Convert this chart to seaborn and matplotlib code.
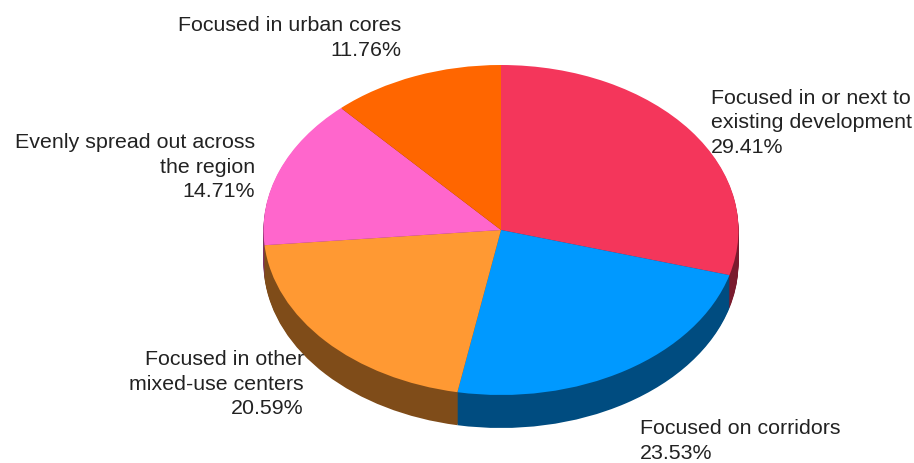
import matplotlib
matplotlib.use('Agg')
import matplotlib.pyplot as plt
import seaborn as sns

sns.set_theme(style='white')
plt.rcParams['font.family'] = ['Liberation Sans', 'DejaVu Sans']

labels = ['Focused in or next to\nexisting development\n29.41%',
          'Focused on corridors\n23.53%',
          'Focused in other\nmixed-use centers\n20.59%',
          'Evenly spread out across\nthe region\n14.71%',
          'Focused in urban cores\n11.76%']
values = [29.41, 23.53, 20.59, 14.71, 11.76]
colors = ['#F4365B', '#0099FF', '#FF9933', '#FF66CC', '#FF6600']
side_colors = ['#7A1B2E', '#004C80', '#7F4C19', '#7F3366', '#7F3300']

W, H = 914, 464
cx, cy, rx, ry, depth = 501, 231, 237.5, 165, 33

fig = plt.figure(figsize=(W / 100, H / 100), dpi=100)
ax = fig.add_axes([0, 0, 1, 1])

# stack of darker pies makes the 3d side
for d in range(depth, 0, -1):
    ax.pie(values, colors=side_colors, startangle=90, counterclock=False,
           center=(0, -d / ry), radius=1, wedgeprops={'linewidth': 0})
ax.pie(values, colors=colors, startangle=90, counterclock=False,
       center=(0, 0), radius=1, wedgeprops={'linewidth': 0})

ax.set_aspect('auto')
ax.set_xlim(-cx / rx, (W - cx) / rx)
ax.set_ylim(-(H - cy) / ry, cy / ry)

# label text, x is anchor in px
fs = 15.4
ls = 1.37
tc = '#222222'
fig.text(711 / W, 1 - 88.5 / H, labels[0], ha='left', va='top', fontsize=fs, color=tc, linespacing=ls)
fig.text(640 / W, 1 - 419 / H, labels[1], ha='left', va='top', fontsize=fs, color=tc, linespacing=ls)
fig.text(304 / W, 1 - 350 / H, labels[2], ha='right', va='top', fontsize=fs, color=tc, linespacing=ls)
fig.text(255 / W, 1 - 133 / H, labels[3], ha='right', va='top', fontsize=fs, color=tc, linespacing=ls)
fig.text(401 / W, 1 - 16 / H, labels[4], ha='right', va='top', fontsize=fs, color=tc, linespacing=ls)

fig.savefig('out.png', dpi=100, facecolor='white')
